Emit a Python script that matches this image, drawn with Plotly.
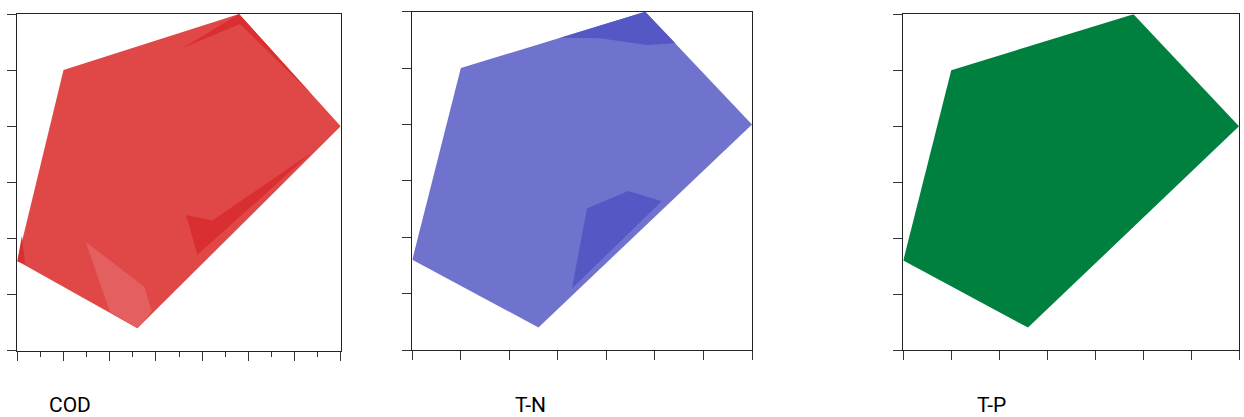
import plotly.graph_objects as go

# ---- data (axis units: x 0..7, y 0..6) ----
hull_x = [0.0, 1.0, 4.8, 7.0, 2.6]
hull_y = [1.6, 5.0, 6.0, 4.0, 0.4]

# COD inner regions
cod_dark_top_x = [3.59, 4.80, 6.36, 4.82]
cod_dark_top_y = [5.40, 6.00, 4.58, 5.82]
cod_dark_low_x = [3.65, 4.22, 6.37, 3.90]
cod_dark_low_y = [2.42, 2.32, 3.53, 1.71]
cod_dark_left_x = [0.0, 0.10, 0.17]
cod_dark_left_y = [1.59, 2.05, 1.55]
cod_light_x = [1.48, 2.75, 2.91, 2.60, 2.01]
cod_light_y = [1.94, 1.14, 0.70, 0.40, 0.68]

# T-N inner regions
tn_dark_top_x = [3.05, 3.87, 4.83, 5.42, 4.80]
tn_dark_top_y = [5.54, 5.53, 5.41, 5.44, 6.00]
tn_dark_low_x = [3.60, 4.45, 5.14, 3.29]
tn_dark_low_y = [2.51, 2.82, 2.64, 1.09]

labels = ["COD", "T-N", "T-P"]

COD_MAIN, COD_DARK, COD_LIGHT = "#E04848", "#DA2F31", "#E45F5F"
TN_MAIN, TN_DARK = "#7073CD", "#5557C5"
TP_MAIN = "#00803F"

W, H = 1244, 417
panels = [
    # x0, x1, ytop, ybottom (pixels)
    (17.3, 340.7, 14.0, 350.7),
    (412.3, 752.0, 11.7, 350.0),
    (903.3, 1239.0, 14.3, 350.0),
]
label_cx = [69.7, 530.0, 991.0]

fig = go.Figure()


def poly(xs, ys, color, ax):
    fig.add_trace(go.Scatter(
        x=xs + [xs[0]], y=ys + [ys[0]], mode="lines", fill="toself",
        fillcolor=color, line=dict(width=0, color=color),
        hoverinfo="skip", showlegend=False,
        xaxis="x" + ("" if ax == 1 else str(ax)),
        yaxis="y" + ("" if ax == 1 else str(ax)),
    ))


# Panel 1: COD
poly(hull_x, hull_y, COD_MAIN, 1)
poly(cod_dark_top_x, cod_dark_top_y, COD_DARK, 1)
poly(cod_dark_low_x, cod_dark_low_y, COD_DARK, 1)
poly(cod_dark_left_x, cod_dark_left_y, COD_DARK, 1)
poly(cod_light_x, cod_light_y, COD_LIGHT, 1)
# Panel 2: T-N
poly(hull_x, hull_y, TN_MAIN, 2)
poly(tn_dark_top_x, tn_dark_top_y, TN_DARK, 2)
poly(tn_dark_low_x, tn_dark_low_y, TN_DARK, 2)
# Panel 3: T-P
poly(hull_x, hull_y, TP_MAIN, 3)

layout = dict(
    width=W, height=H, margin=dict(l=0, r=0, t=0, b=0),
    paper_bgcolor="white", plot_bgcolor="white", showlegend=False,
)
for i, (x0, x1, yt, yb) in enumerate(panels, start=1):
    sfx = "" if i == 1 else str(i)
    xa = dict(
        domain=[x0 / W, x1 / W], range=[0, 7], dtick=1, tick0=0,
        showticklabels=False, showgrid=False, zeroline=False,
        ticks="outside", ticklen=9, tickwidth=1.2, tickcolor="#333",
        showline=True, linecolor="#222", linewidth=1.4, mirror=True,
        anchor="y" + sfx, fixedrange=True,
    )
    if i == 1:
        xa["minor"] = dict(ticks="outside", ticklen=5, dtick=0.5, tick0=0,
                           tickwidth=1.2, tickcolor="#333", showgrid=False)
    ya = dict(
        domain=[1 - yb / H, 1 - yt / H], range=[0, 6], dtick=1, tick0=0,
        showticklabels=False, showgrid=False, zeroline=False,
        ticks="outside", ticklen=9, tickwidth=1.2, tickcolor="#333",
        showline=True, linecolor="#222", linewidth=1.4, mirror=True,
        anchor="x" + sfx, fixedrange=True,
    )
    layout["xaxis" + sfx] = xa
    layout["yaxis" + sfx] = ya

annotations = []
for lab, cx in zip(labels, label_cx):
    annotations.append(dict(
        text=lab, x=cx / W, y=1 - 405 / H, xref="paper", yref="paper",
        xanchor="center", yanchor="middle", showarrow=False,
        font=dict(family="Liberation Sans Narrow, Arial Narrow, Roboto, sans-serif",
                  size=21, color="black"),
    ))
layout["annotations"] = annotations

fig.update_layout(**layout)
fig.write_html(
    "out.html",
    config={"displayModeBar": False},
    post_script="document.body.style.margin='0';document.body.style.overflow='hidden';",
)
